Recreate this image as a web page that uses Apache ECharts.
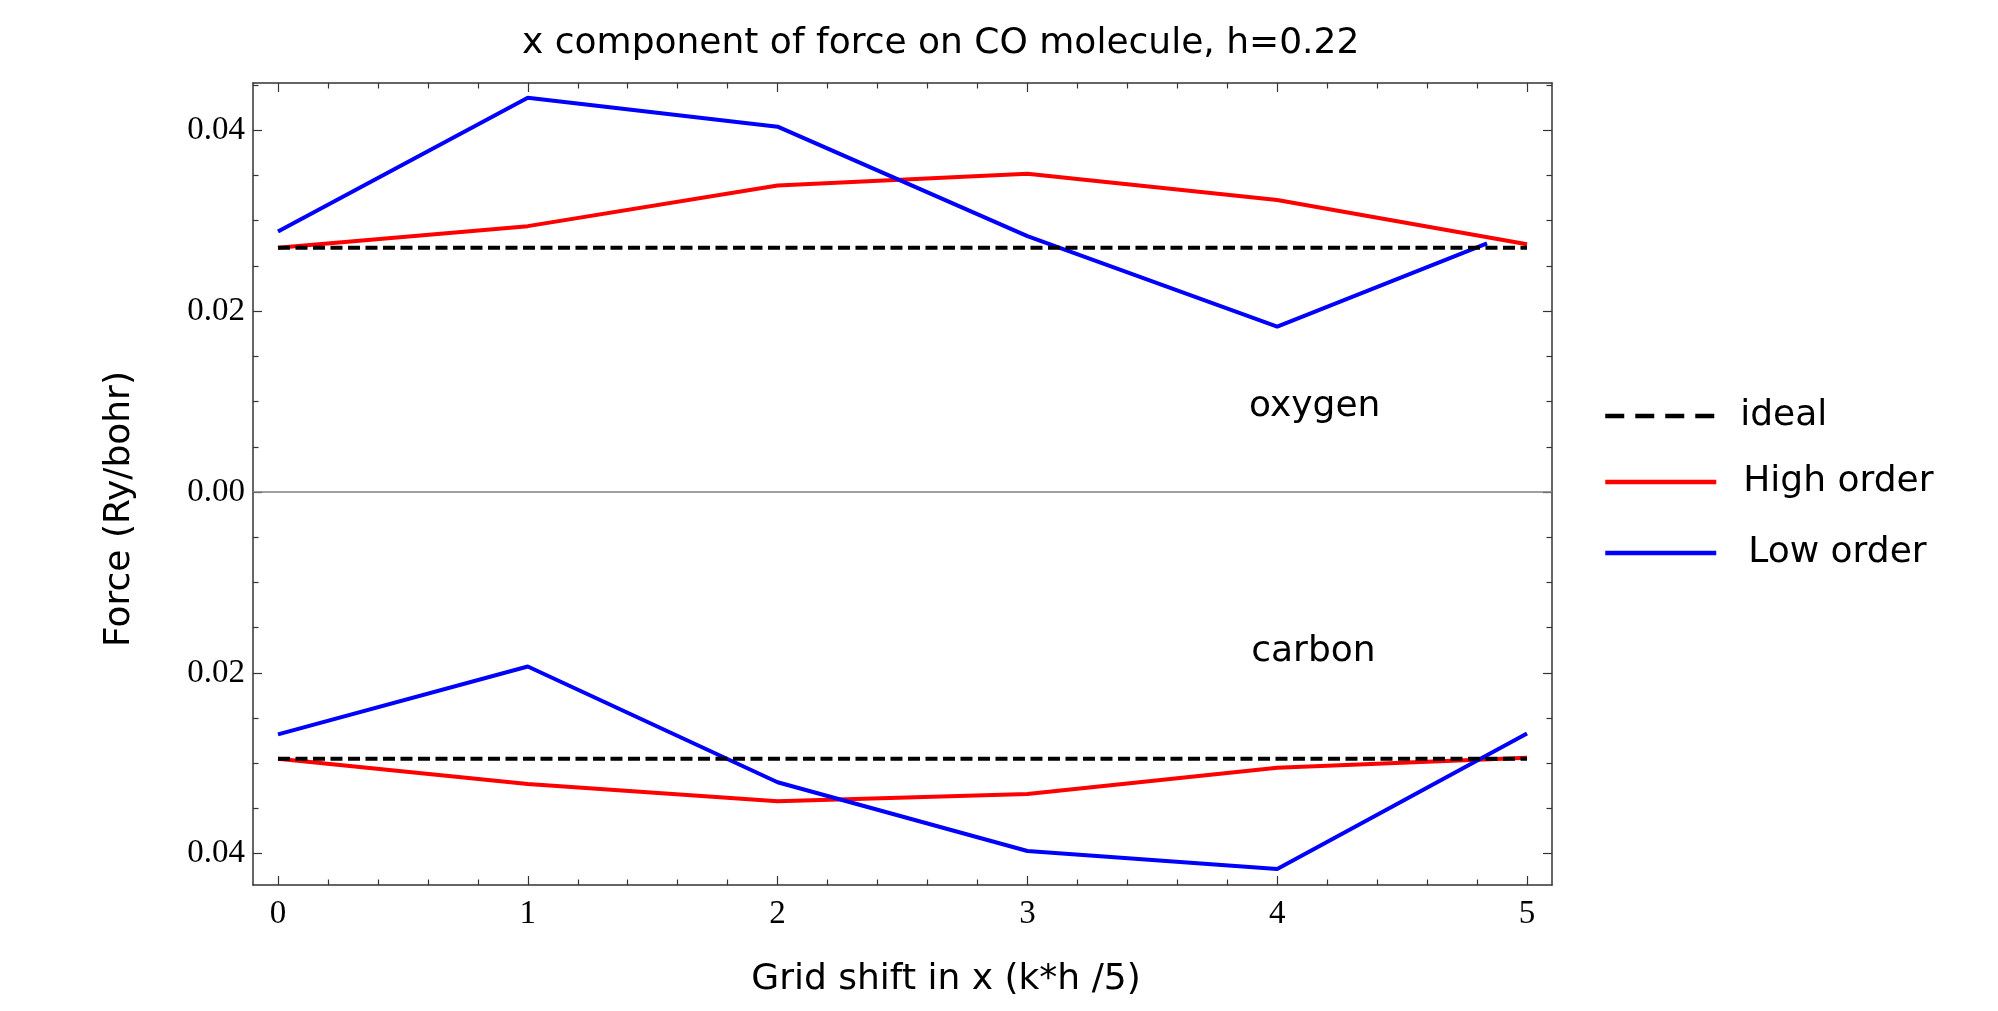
<!DOCTYPE html>
<html>
<head>
<meta charset="utf-8">
<script src="https://cdn.jsdelivr.net/npm/echarts@6/dist/echarts.min.js"></script>
<style>
html,body{margin:0;padding:0;background:#ffffff;}
#chart{width:1998px;height:1011px;}
</style>
</head>
<body>
<div id="chart"></div>
<script>
// ---- data ----
const shifts = [0, 1, 2, 3, 4, 5];
const lowOxygenShifts = [0, 1, 2, 3, 4, 4.84];

const idealOxygen = [0.0270, 0.0270, 0.0270, 0.0270, 0.0270, 0.0270];
const highOxygen  = [0.0270, 0.0294, 0.0339, 0.0352, 0.0323, 0.0274];
const lowOxygen   = [0.0288, 0.0436, 0.0404, 0.0283, 0.0183, 0.0275];

const idealCarbon = [-0.0295, -0.0295, -0.0295, -0.0295, -0.0295, -0.0295];
const highCarbon  = [-0.0295, -0.0323, -0.0342, -0.0334, -0.0305, -0.0294];
const lowCarbon   = [-0.0268, -0.0193, -0.0321, -0.0397, -0.0417, -0.0267];

const xMajorTicks = [0, 1, 2, 3, 4, 5];
const xMinorTicks = [0.2, 0.4, 0.6, 0.8, 1.2, 1.4, 1.6, 1.8, 2.2, 2.4, 2.6, 2.8,
                     3.2, 3.4, 3.6, 3.8, 4.2, 4.4, 4.6, 4.8];
const yMajorTicks = [-0.04, -0.02, 0, 0.02, 0.04];
const yMinorTicks = [-0.035, -0.03, -0.025, -0.015, -0.01, -0.005,
                     0.005, 0.01, 0.015, 0.025, 0.03, 0.035, 0.045];

const annotations = [
  { name: 'oxygen', x: 4.15, y: 0.0094 },
  { name: 'carbon', x: 4.145, y: -0.0177 }
];

const titleText = 'x component of force on CO molecule, h=0.22';
const xName = 'Grid shift in x (k*h /5)';
const yName = 'Force (Ry/bohr)';

// ---- chart ----
const X_MIN = -0.1, X_MAX = 5.1;
const Y_MIN = -0.04346, Y_MAX = 0.04523;
const AX = '#333333';
const SANS = 'DejaVu Sans';
const SERIF = 'Liberation Serif';

function pts(xs, ys) { return xs.map((x, i) => [x, ys[i]]); }

function xAxisDef(pos, major, showLabel) {
  return {
    type: 'value', position: pos, min: X_MIN, max: X_MAX,
    axisLine: { show: major, onZero: false, lineStyle: { color: AX, width: 1.5 } },
    axisTick: { show: true, inside: true, length: major ? 9 : 5.5,
                customValues: major ? xMajorTicks : xMinorTicks,
                lineStyle: { color: AX, width: 1.2 } },
    axisLabel: { show: showLabel, customValues: xMajorTicks, margin: 13,
                 fontFamily: SERIF, fontSize: 33, color: '#000' },
    splitLine: { show: false }, minorTick: { show: false }
  };
}
function yAxisDef(pos, major, showLabel) {
  return {
    type: 'value', position: pos, min: Y_MIN, max: Y_MAX,
    axisLine: { show: major, onZero: false, lineStyle: { color: AX, width: 1.5 } },
    axisTick: { show: true, inside: true, length: major ? 9 : 5.5,
                customValues: major ? yMajorTicks : yMinorTicks,
                lineStyle: { color: AX, width: 1.2 } },
    axisLabel: { show: showLabel, customValues: yMajorTicks, margin: 8,
                 fontFamily: SERIF, fontSize: 33, color: '#000',
                 formatter: v => Math.abs(v).toFixed(2) },
    splitLine: { show: false }, minorTick: { show: false }
  };
}

const xAxes = [xAxisDef('bottom', true, true), xAxisDef('bottom', false, false),
               xAxisDef('top', true, false), xAxisDef('top', false, false)];
xAxes[0].name = xName;
xAxes[0].nameLocation = 'middle';
xAxes[0].nameGap = 75;
xAxes[0].nameTextStyle = { fontFamily: SANS, fontSize: 36, color: '#000', lineHeight: 40, padding: [0, 0, 0, 87] };

const yAxes = [yAxisDef('left', true, true), yAxisDef('left', false, false),
               yAxisDef('right', true, false), yAxisDef('right', false, false)];
yAxes[0].name = yName;
yAxes[0].nameLocation = 'middle';
yAxes[0].nameGap = 113;
yAxes[0].nameTextStyle = { fontFamily: SANS, fontSize: 36, color: '#000', lineHeight: 40, padding: [0, 50, 0, 0] };

function lineSeries(name, data, color, dashed) {
  return {
    name: name, type: 'line', xAxisIndex: 0, yAxisIndex: 0,
    data: data, symbol: 'none', showSymbol: false, animation: false,
    lineStyle: { color: color, width: 4, type: dashed ? [12, 5.5] : 'solid' },
    itemStyle: { color: color }
  };
}

const series = [
  lineSeries('High order', pts(shifts, highOxygen), '#ff0000', false),
  lineSeries('High order', pts(shifts, highCarbon), '#ff0000', false),
  lineSeries('Low order', pts(lowOxygenShifts, lowOxygen), '#0000ff', false),
  lineSeries('Low order', pts(shifts, lowCarbon), '#0000ff', false),
  lineSeries('ideal', pts(shifts, idealOxygen), '#000000', true),
  lineSeries('ideal', pts(shifts, idealCarbon), '#000000', true)
];
series[4].markLine = {
  silent: true, symbol: 'none', animation: false,
  label: { show: false },
  lineStyle: { color: '#808080', width: 1.5, type: 'solid' },
  data: [{ yAxis: 0 }]
};
series[4].markPoint = {
  silent: true, animation: false, symbol: 'circle', symbolSize: 0,
  label: { show: true, position: 'inside', formatter: '{b}',
           fontFamily: SANS, fontSize: 36, color: '#000' },
  data: annotations.map(a => ({ name: a.name, coord: [a.x, a.y] }))
};

function legendDef(name, centerY, textPad, color, dash) {
  return {
    data: [name], orient: 'vertical', left: 1603, top: centerY - 20,
    padding: 0, itemWidth: 111, itemHeight: 40, selectedMode: false,
    itemStyle: { opacity: 0 },
    lineStyle: { type: dash || 'solid', width: 4.5, color: color, opacity: 1 },
    textStyle: { fontFamily: SANS, fontSize: 36, color: '#000', lineHeight: 40,
                 padding: [0, 0, 0, textPad] }
  };
}

const option = {
  backgroundColor: '#ffffff',
  animation: false,
  title: {
    text: titleText, left: 522, top: 24, padding: 0,
    textStyle: { fontFamily: SANS, fontSize: 36, fontWeight: 'normal', color: '#000', lineHeight: 40 }
  },
  legend: [
    legendDef('ideal', 416, 19, '#000000', [19, 11]),
    legendDef('High order', 482, 22, '#ff0000', null),
    legendDef('Low order', 553, 27, '#0000ff', null)
  ],
  grid: { left: 253, top: 83, width: 1299, height: 802 },
  xAxis: xAxes,
  yAxis: yAxes,
  series: series
};

const chart = echarts.init(document.getElementById('chart'), null, { renderer: 'canvas' });
chart.setOption(option);
</script>
</body>
</html>
